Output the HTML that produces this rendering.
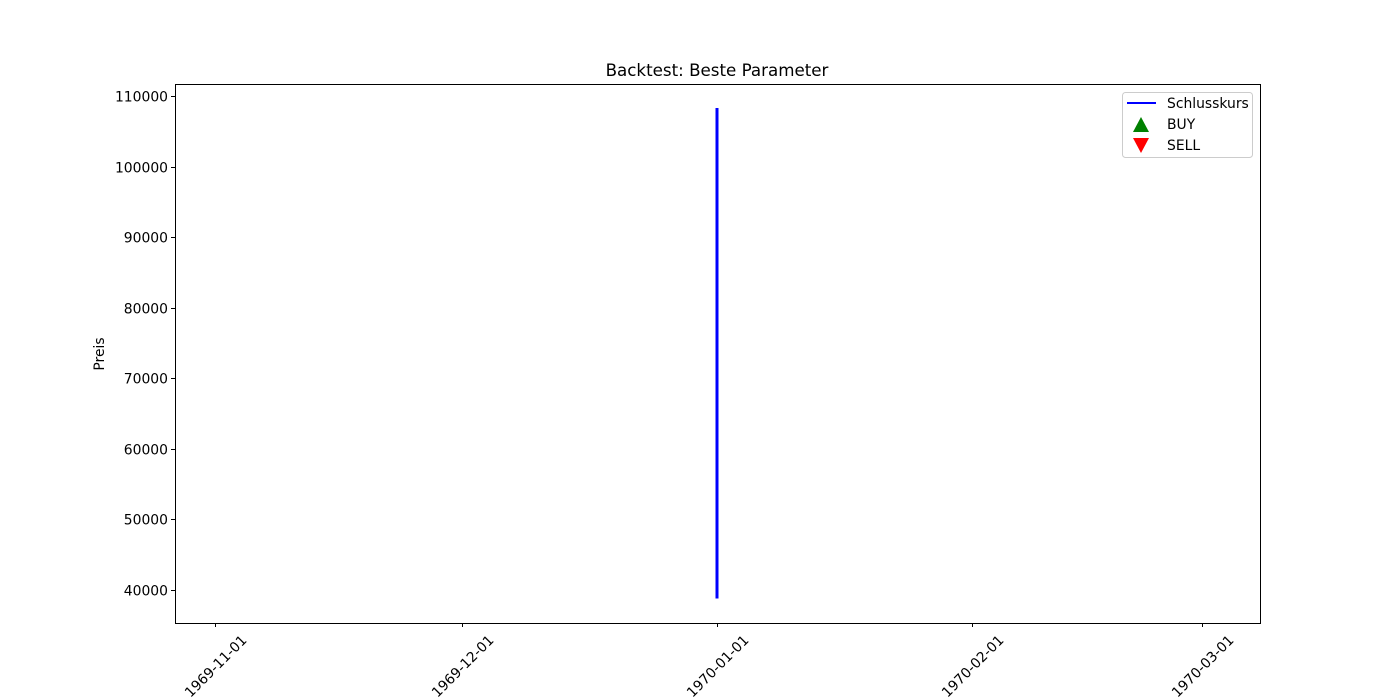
<!DOCTYPE html>
<html><head><meta charset="utf-8"><style>
body{margin:0;background:#fff}
svg{display:block;font-family:"DejaVu Sans","Liberation Sans",sans-serif}
</style></head><body>
<svg id="chart" width="1400" height="700">
<text x="717" y="76" font-size="16.7" text-anchor="middle">Backtest: Beste Parameter</text>
<text transform="translate(104,354) rotate(-90)" font-size="13.9" text-anchor="middle">Preis</text>
<g id="plot"></g>
<rect x="175.5" y="84.5" width="1085" height="539" fill="none" stroke="#000" stroke-width="1"/>
<g>
<rect x="1122.5" y="92.5" width="130" height="65" rx="3" fill="#fff" fill-opacity="0.8" stroke="#ccc"/>
<line x1="1127" y1="103" x2="1156" y2="103" stroke="#0000ff" stroke-width="2"/>
<text x="1167" y="108" font-size="13.9">Schlusskurs</text>
<polygon points="1141,117 1149,132 1133,132" fill="green"/>
<text x="1167" y="129" font-size="13.9">BUY</text>
<polygon points="1133,138 1149,138 1141,153" fill="red"/>
<text x="1167" y="150" font-size="13.9">SELL</text>
</g>
</svg>
<script>
const yTicks=[40000,50000,60000,70000,80000,90000,100000,110000];
const xTickLabels=["1969-11-01","1969-12-01","1970-01-01","1970-02-01","1970-03-01"];
const xTickDays=[-61,-31,0,31,59];
const priceDays=[0,0];
const priceValues=[38800,108300];
const NS="http://www.w3.org/2000/svg";
const g=document.getElementById('plot');
function yS(v){return 590-(v-40000)*(494/70000);}
function xS(d){return 717+d*(255/31);}
function mk(t,a){const e=document.createElementNS(NS,t);for(const k in a)e.setAttribute(k,a[k]);g.appendChild(e);return e;}
yTicks.forEach(v=>{
  const y=Math.round(yS(v))+0.5;
  const tk=mk('line',{x1:171,x2:175,y1:y,y2:y,stroke:'#000'});
  
  
  const t=mk('text',{x:168,y:y+5,'font-size':13.9,'text-anchor':'end'});
  t.textContent=v;
  
  
});
xTickLabels.forEach((s,i)=>{
  const x=Math.round(xS(xTickDays[i]))+0.5;
  const tk=mk('line',{x1:x,x2:x,y1:623,y2:627,stroke:'#000'});
  
  
  const t=mk('text',{x:x,y:671,'font-size':13.9,'text-anchor':'middle',transform:`rotate(-45 ${x} 666)`});
  t.textContent=s;
  
  
});
const pts=priceDays.map((d,i)=>xS(d)+','+yS(priceValues[i])).join(' ');
const pl=mk('polyline',{points:pts,fill:'none',stroke:'#0000ff','stroke-width':3});


</script>
</body></html>
